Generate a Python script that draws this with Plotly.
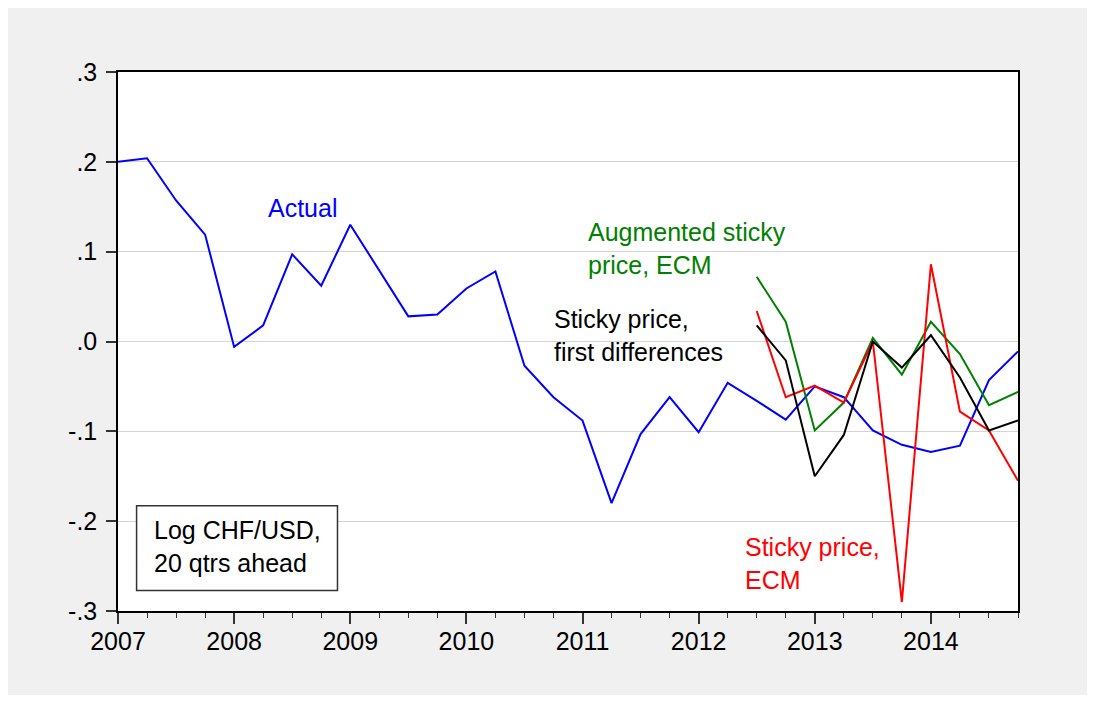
import plotly.graph_objects as go

# ---- data ----
start_year = 2007
n_quarters = 32
quarters = [f"{start_year + i // 4}Q{i % 4 + 1}" for i in range(n_quarters)]

actual = [0.200, 0.204, 0.157, 0.119, -0.006, 0.018, 0.097, 0.062,
          0.130, 0.079, 0.028, 0.030, 0.059, 0.078, -0.027, -0.062,
          -0.088, -0.180, -0.103, -0.062, -0.101, -0.046, -0.066, -0.087,
          -0.050, -0.062, -0.099, -0.115, -0.123, -0.116, -0.043, -0.011]

forecast_quarters = quarters[22:]
sticky_ecm = [0.034, -0.062, -0.049, -0.068, 0.000, -0.290, 0.086, -0.078, -0.099, -0.155]
sticky_fd = [0.018, -0.021, -0.150, -0.104, 0.000, -0.029, 0.007, -0.040, -0.099, -0.088]
aug_ecm = [0.072, 0.022, -0.099, -0.068, 0.004, -0.037, 0.022, -0.014, -0.071, -0.056]

year_ticks = list(range(2007, 2015))
y_ticks = [0.3, 0.2, 0.1, 0.0, -0.1, -0.2, -0.3]
y_tick_text = [".3", ".2", ".1", ".0", "-.1", "-.2", "-.3"]


def qnum(q):
    y, qq = q.split("Q")
    return int(y) + (int(qq) - 1) * 0.25


FONT = "Liberation Sans, Arial, sans-serif"
FS = 25

fig = go.Figure()
fig.add_trace(go.Scatter(x=[qnum(q) for q in quarters], y=actual, mode="lines",
                         line=dict(color="#0000ff", width=2), name="Actual"))
fig.add_trace(go.Scatter(x=[qnum(q) for q in forecast_quarters], y=aug_ecm, mode="lines",
                         line=dict(color="#008000", width=2), name="Augmented sticky price, ECM"))
fig.add_trace(go.Scatter(x=[qnum(q) for q in forecast_quarters], y=sticky_ecm, mode="lines",
                         line=dict(color="#ff0000", width=2), name="Sticky price, ECM"))
fig.add_trace(go.Scatter(x=[qnum(q) for q in forecast_quarters], y=sticky_fd, mode="lines",
                         line=dict(color="#000000", width=2), name="Sticky price, first differences"))

W, H = 1079, 687
L, T = 110, 64
pw, ph = 900, 539
R, B = W - L - pw, H - T - ph

fig.update_layout(
    width=W, height=H,
    margin=dict(l=L, r=R, t=T, b=B),
    paper_bgcolor="#f0f0f0",
    plot_bgcolor="#ffffff",
    showlegend=False,
    font=dict(family=FONT, size=FS, color="#000000"),
    xaxis=dict(range=[2007, 2014.75], tickvals=year_ticks,
               ticktext=[str(y) for y in year_ticks],
               ticks="outside", ticklen=11, tickwidth=1.5, tickcolor="#333333",
               ticklabelstandoff=-4,
               minor=dict(dtick=0.25, tick0=2007, ticks="outside", ticklen=5,
                          tickwidth=1.2, tickcolor="#333333", showgrid=False),
               showgrid=False, zeroline=False,
               showline=True, linecolor="#000000", linewidth=1.5, mirror=True,
               tickfont=dict(size=FS, family=FONT)),
    yaxis=dict(range=[-0.3, 0.3], tickvals=y_ticks, ticktext=y_tick_text,
               ticks="outside", ticklen=10, tickwidth=1.5, tickcolor="#333333",
               ticklabelstandoff=4,
               showgrid=True, gridcolor="#d4d4d4", gridwidth=1.2, zeroline=False,
               showline=True, linecolor="#000000", linewidth=1.5, mirror=True,
               tickfont=dict(size=FS, family=FONT)),
)

# label box
fig.add_shape(type="rect", xref="x", yref="y", x0=2007.16, x1=2008.89, y0=-0.2773, y1=-0.1827,
              line=dict(color="#333333", width=1.5), fillcolor="#ffffff")

ann = [
    ("Actual", 2008.276, 0.1486, "#0000ff"),
    ("Augmented sticky<br>price, ECM", 2011.034, 0.1035, "#008000"),
    ("Sticky price,<br>first differences", 2010.741, 0.0069, "#000000"),
    ("Sticky price,<br>ECM", 2012.379, -0.2474, "#ff0000"),
    ("Log CHF/USD,<br>20 qtrs ahead", 2007.293, -0.2281, "#000000"),
]
for text, x, y, c in ann:
    fig.add_annotation(text=text, x=x, y=y, xref="x", yref="y", xanchor="left", yanchor="middle",
                       showarrow=False, align="left", font=dict(color=c, size=FS, family=FONT))

fig.write_html("out.html")
